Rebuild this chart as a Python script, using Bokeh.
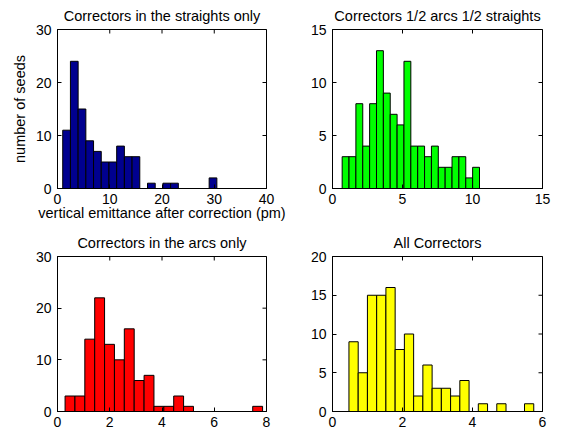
import numpy as np
from bokeh.plotting import figure
from bokeh.layouts import gridplot
from bokeh.models import FixedTicker, Range1d
from bokeh.embed import file_html
from bokeh.resources import INLINE

# ---- data (counts per histogram bin, 20 bins each) ----
straights_title = "Correctors in the straights only"
straights_counts = [11, 24, 15, 9, 7, 5, 5, 8, 6, 6, 0, 1, 0, 1, 1, 0, 0, 0, 0, 2]
straights_range = [1.0, 30.5]

half_title = "Correctors 1/2 arcs 1/2 straights"
half_counts = [3, 3, 8, 4, 8, 13, 9, 7, 6, 12, 4, 4, 3, 4, 2, 2, 3, 3, 1, 2]
half_range = [0.69, 10.5]

arcs_title = "Correctors in the arcs only"
arcs_counts = [3, 3, 14, 22, 13, 10, 16, 6, 7, 1, 1, 3, 1, 0, 0, 0, 0, 0, 0, 1]
arcs_range = [0.29, 7.85]

all_title = "All Correctors"
all_counts = [9, 5, 15, 15, 16, 8, 10, 2, 6, 3, 3, 2, 4, 0, 1, 0, 1, 0, 0, 1]
all_range = [0.47, 5.75]

x_label = "vertical emittance after correction (pm)"
y_label = "number of seeds"

straights_xticks = [0, 10, 20, 30, 40]
straights_yticks = [0, 10, 20, 30]
half_xticks = [0, 5, 10, 15]
half_yticks = [0, 5, 10, 15]
arcs_xticks = [0, 2, 4, 6, 8]
arcs_yticks = [0, 10, 20, 30]
all_xticks = [0, 2, 4, 6]
all_yticks = [0, 5, 10, 15, 20]

FONT = "Liberation Sans"
TICK_FS = "14px"
LBL_FS = "14.5px"


def make(title, counts, rng, xticks, yticks, color, w, h, bl, br, bt, bb,
         xlabel=None, ylabel=None):
    p = figure(width=w, height=h, output_backend="svg", toolbar_location=None,
               x_range=Range1d(xticks[0], xticks[-1]),
               y_range=Range1d(yticks[0], yticks[-1]),
               min_border_left=bl, min_border_right=br,
               min_border_top=bt, min_border_bottom=bb,
               title=title)
    edges = np.linspace(rng[0], rng[1], len(counts) + 1)
    p.quad(left=edges[:-1], right=edges[1:], bottom=0, top=counts,
           fill_color=color, line_color="black", line_width=1)
    p.grid.visible = False
    p.outline_line_color = "black"
    p.outline_line_width = 1
    p.background_fill_color = "white"
    p.border_fill_color = "white"

    p.title.text_font = FONT
    p.title.text_font_size = LBL_FS
    p.title.text_font_style = "normal"
    p.title.text_color = "black"
    p.title.align = "center"
    p.title.standoff = 11

    for ax, ticks in ((p.xaxis[0], xticks), (p.yaxis[0], yticks)):
        ax.ticker = FixedTicker(ticks=ticks)
        ax.minor_tick_line_color = None
        ax.major_tick_in = 4
        ax.major_tick_out = 0
        ax.major_label_standoff = 6
        ax.major_label_text_font = FONT
        ax.major_label_text_font_size = TICK_FS
        ax.major_label_text_color = "black"
        ax.axis_line_color = "black"
        ax.axis_label_text_font = FONT
        ax.axis_label_text_font_size = LBL_FS
        ax.axis_label_text_font_style = "normal"
        ax.axis_label_text_color = "black"
    p.xaxis[0].major_label_standoff = 5
    if xlabel:
        p.xaxis[0].axis_label = xlabel
        p.xaxis[0].axis_label_standoff = -2
    if ylabel:
        p.yaxis[0].axis_label = ylabel
        p.yaxis[0].axis_label_standoff = 5

    # mirrored tick marks on the top and right edges of the box
    p.scatter(x=xticks, y=[yticks[-1]] * len(xticks), marker="dash",
              angle=np.pi / 2, size=8, line_color="black", line_width=1)
    p.scatter(x=[xticks[-1]] * len(yticks), y=yticks, marker="dash",
              size=8, line_color="black", line_width=1)
    return p


W1, W2 = 300, 262
H1, H2 = 226, 209

p1 = make(straights_title, straights_counts, straights_range, straights_xticks,
          straights_yticks, "#00008F", W1, H1, 57, W1 - 266, 28, H1 - 188,
          xlabel=x_label, ylabel=y_label)
p2 = make(half_title, half_counts, half_range, half_xticks, half_yticks,
          "#00FF00", W2, H1, 332 - W1, W2 - (542 - W1), 29, H1 - 188)
p3 = make(arcs_title, arcs_counts, arcs_range, arcs_xticks, arcs_yticks,
          "#FF0000", W1, H2, 57, W1 - 266, 255 - H1, 435 - 411)
p4 = make(all_title, all_counts, all_range, all_xticks, all_yticks,
          "#FFFF00", W2, H2, 332 - W1, W2 - (542 - W1), 256 - H1, 435 - 411)

grid = gridplot([[p1, p2], [p3, p4]], toolbar_location=None)

open("out.html", "w").write(file_html(grid, INLINE))
